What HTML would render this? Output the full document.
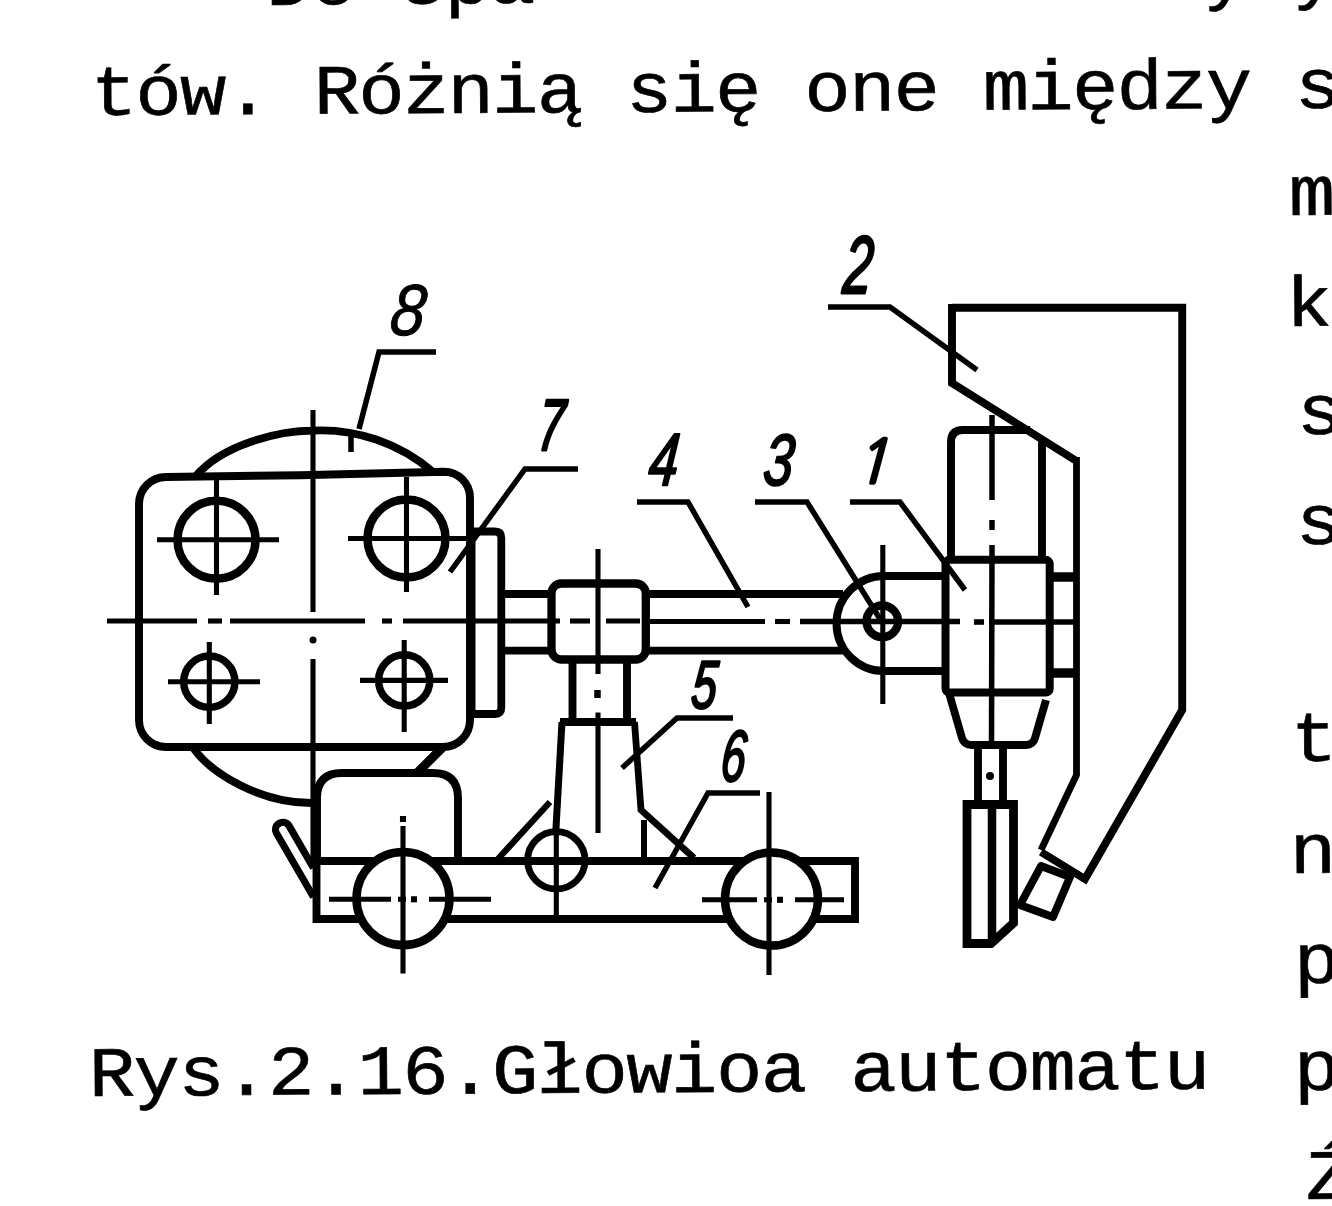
<!DOCTYPE html>
<html lang="pl"><head><meta charset="utf-8"><title>Rys.2.16.Głowioa automatu</title>
<style>
html,body{margin:0;padding:0;background:#fff;}
body{width:1332px;height:1206px;overflow:hidden;position:relative;}
#sheet{position:absolute;left:0;top:0;width:1332px;height:1206px;overflow:hidden;background:#fff;}
.t{position:absolute;white-space:pre;font-family:"Liberation Mono",monospace;font-size:77px;line-height:87.23px;color:#000;-webkit-text-stroke:0.7px #000;transform-origin:0 64.1px;}
svg{position:absolute;left:0;top:0;}
svg *{fill:none;stroke:#000;}
svg .d{fill:#000;stroke:none;}
svg .w{fill:#fff;}
svg text{fill:#000;stroke:#000;stroke-linejoin:round;font-family:"Liberation Sans",sans-serif;font-style:italic;}
svg text.n1{font-family:"NanumGothic","Liberation Sans",sans-serif;font-style:normal;stroke-width:3.2px;}
</style></head>
<body><div id="sheet">
<div class="t" style="left:266px;top:-59.5px;letter-spacing:-1.57px;transform:rotate(-0.5deg) scaleY(0.92);">Do spa               y y</div>
<div class="t" style="left:90.5px;top:50.9px;letter-spacing:-1.61px;transform:rotate(-0.33deg) scaleY(0.92);">tów. Różnią się one między s</div>
<div class="t" style="left:89px;top:1031.9px;letter-spacing:-1.41px;transform:rotate(-0.38deg) scaleY(0.92);">Rys.2.16.Głowioa automatu</div>
<div class="t" style="left:1288.5px;top:151.4px;letter-spacing:-1.41px;transform:rotate(-0.35deg) scaleY(0.92);">m</div>
<div class="t" style="left:1286px;top:261.9px;letter-spacing:-1.41px;transform:rotate(-0.35deg) scaleY(0.92);">k</div>
<div class="t" style="left:1297px;top:369.9px;letter-spacing:-1.41px;transform:rotate(-0.35deg) scaleY(0.92);">s</div>
<div class="t" style="left:1296px;top:480.4px;letter-spacing:-1.41px;transform:rotate(-0.35deg) scaleY(0.92);">s</div>
<div class="t" style="left:1291px;top:697.4px;letter-spacing:-1.41px;transform:rotate(-0.35deg) scaleY(0.92);">t</div>
<div class="t" style="left:1290px;top:808.9px;letter-spacing:-1.41px;transform:rotate(-0.35deg) scaleY(0.92);">n</div>
<div class="t" style="left:1294px;top:918.9px;letter-spacing:-1.41px;transform:rotate(-0.35deg) scaleY(0.92);">p</div>
<div class="t" style="left:1294px;top:1026.4px;letter-spacing:-1.41px;transform:rotate(-0.35deg) scaleY(0.92);">p</div>
<div class="t" style="left:1306px;top:1135.4px;letter-spacing:-1.41px;transform:rotate(-0.35deg) scaleY(0.92);">Ź</div>
<svg width="1332" height="1206" viewBox="0 0 1332 1206">
<path d="M139 720 L139 504 A27 27 0 0 1 166 477 L300 475.2 L444 471.7 A26 26 0 0 1 470 497.7 L470 720 A27 27 0 0 1 443 747 L166 747 A27 27 0 0 1 139 720 Z" stroke-width="7.9" stroke-linejoin="round" stroke-linecap="butt"/>
<path d="M195 477 C222 444 280 430.6 313 430.6 A172 172 0 0 1 433 472" stroke-width="7.9" stroke-linejoin="round" stroke-linecap="butt"/>
<path d="M194 749 C213 775 262 803 311 803 L316 803" stroke-width="7.9" stroke-linejoin="round" stroke-linecap="butt"/>
<line x1="313" y1="410" x2="313" y2="612" stroke-width="5.1" stroke-linecap="butt"/>
<circle class="d" cx="313" cy="640" r="3.5"/>
<line x1="313" y1="659" x2="313" y2="860" stroke-width="5.1" stroke-linecap="butt"/>
<line x1="107" y1="621" x2="197" y2="621" stroke-width="5.1" stroke-linecap="butt"/>
<line x1="208" y1="621" x2="222" y2="621" stroke-width="5.1" stroke-linecap="butt"/>
<line x1="230" y1="621" x2="365" y2="621" stroke-width="5.1" stroke-linecap="butt"/>
<line x1="382" y1="621" x2="392" y2="621" stroke-width="5.1" stroke-linecap="butt"/>
<line x1="403" y1="621" x2="560" y2="621" stroke-width="5.1" stroke-linecap="butt"/>
<circle cx="216.5" cy="539.7" r="39" stroke-width="8.5"/>
<line x1="157" y1="539.7" x2="279" y2="539.7" stroke-width="5.1" stroke-linecap="butt"/>
<line x1="216.5" y1="477" x2="216.5" y2="595" stroke-width="5.1" stroke-linecap="butt"/>
<circle cx="406.5" cy="538.5" r="39" stroke-width="8.5"/>
<line x1="348" y1="538.5" x2="473" y2="538.5" stroke-width="5.1" stroke-linecap="butt"/>
<line x1="406.5" y1="477" x2="406.5" y2="592" stroke-width="5.1" stroke-linecap="butt"/>
<circle cx="209.3" cy="681.7" r="25.6" stroke-width="7.5"/>
<line x1="168" y1="681.7" x2="260" y2="681.7" stroke-width="5.1" stroke-linecap="butt"/>
<line x1="209.3" y1="642" x2="209.3" y2="724" stroke-width="5.1" stroke-linecap="butt"/>
<circle cx="404.2" cy="680.4" r="25.6" stroke-width="7.5"/>
<line x1="360" y1="680.4" x2="448" y2="680.4" stroke-width="5.1" stroke-linecap="butt"/>
<line x1="404.2" y1="640" x2="404.2" y2="732" stroke-width="5.1" stroke-linecap="butt"/>
<path d="M470 531.5 L495 531.5 Q501.3 531.5 501.3 538 L501.3 707.5 Q501.3 714 495 714 L470 714" stroke-width="7.8" stroke-linejoin="round" stroke-linecap="butt"/>
<line x1="472.5" y1="528" x2="472.5" y2="718" stroke-width="6" stroke-linecap="butt"/>
<line x1="502" y1="594" x2="553" y2="594" stroke-width="7.9" stroke-linecap="butt"/>
<line x1="502" y1="650.6" x2="553" y2="650.6" stroke-width="7.9" stroke-linecap="butt"/>
<rect x="551.5" y="583.5" width="94.29999999999995" height="76.0" rx="10" ry="10" stroke-width="8.3"/>
<line x1="598" y1="549" x2="598" y2="674" stroke-width="5.1" stroke-linecap="butt"/>
<line x1="598" y1="712.5" x2="598" y2="833" stroke-width="5.1" stroke-linecap="butt"/>
<line x1="646" y1="594" x2="843" y2="594" stroke-width="7.9" stroke-linecap="butt"/>
<line x1="646" y1="650.6" x2="843" y2="650.6" stroke-width="7.9" stroke-linecap="butt"/>
<line x1="570" y1="621" x2="590" y2="621" stroke-width="5.1" stroke-linecap="butt"/>
<line x1="606" y1="621" x2="640" y2="621" stroke-width="5.1" stroke-linecap="butt"/>
<line x1="650" y1="621.5" x2="765" y2="621.5" stroke-width="5.1" stroke-linecap="butt"/>
<line x1="775" y1="621.5" x2="790" y2="621.5" stroke-width="5.1" stroke-linecap="butt"/>
<line x1="800" y1="621.5" x2="960" y2="621.5" stroke-width="5.6" stroke-linecap="butt"/>
<line x1="974" y1="622" x2="984" y2="622" stroke-width="5.6" stroke-linecap="butt"/>
<line x1="989" y1="622" x2="1074" y2="622" stroke-width="5.6" stroke-linecap="butt"/>
<path d="M947 576 L884 576 A47.5 47.5 0 0 0 884 671 L947 671" stroke-width="7.9" stroke-linejoin="round" stroke-linecap="butt"/>
<circle cx="882.3" cy="621.3" r="15.8" stroke-width="8.3"/>
<line x1="882.8" y1="545" x2="882.8" y2="704" stroke-width="5.1" stroke-linecap="butt"/>
<path d="M951 558 L951 442 Q951 430 963 430 L1030 430" stroke-width="7.9" stroke-linejoin="round" stroke-linecap="butt"/>
<line x1="1042" y1="440" x2="1042" y2="558" stroke-width="7.9" stroke-linecap="butt"/>
<rect x="945.5" y="559.8" width="104.20000000000005" height="132.70000000000005" rx="4" ry="4" stroke-width="8"/>
<line x1="992" y1="415" x2="992" y2="500" stroke-width="5.5" stroke-linecap="butt"/>
<line x1="992" y1="520" x2="992" y2="530" stroke-width="5.5" stroke-linecap="butt"/>
<line x1="992" y1="545" x2="991.5" y2="745" stroke-width="5.5" stroke-linecap="butt"/>
<line x1="1050" y1="577" x2="1077" y2="577" stroke-width="9.5" stroke-linecap="butt"/>
<line x1="1050" y1="673" x2="1077" y2="673" stroke-width="9.5" stroke-linecap="butt"/>
<path d="M949 693 L962 738 Q964 745 972 745 L1026 745 Q1033 745 1035 738 L1046 700" stroke-width="7.9" stroke-linejoin="round" stroke-linecap="butt"/>
<line x1="978" y1="745" x2="978" y2="804" stroke-width="7.9" stroke-linecap="butt"/>
<line x1="1003" y1="745" x2="1003" y2="804" stroke-width="7.9" stroke-linecap="butt"/>
<circle class="d" cx="990" cy="776" r="4"/>
<path d="M967 804.5 L967 943.5 L991 943.5 L1013.5 923 L1013.5 804.5 Z" stroke-width="8.8" stroke-linejoin="miter" stroke-linecap="butt"/>
<line x1="992" y1="804" x2="992" y2="942" stroke-width="8.5" stroke-linecap="butt"/>
<path d="M952 307.8 L1182.2 307.8 L1182.2 710 L1085 879 L1041 852" stroke-width="7.9" stroke-linejoin="miter" stroke-linecap="butt"/>
<path d="M952 304 L952 383 L1076.5 461" stroke-width="7.9" stroke-linejoin="miter" stroke-linecap="butt"/>
<path d="M1076.5 457 L1076.5 775 L1041 850" stroke-width="6.8" stroke-linejoin="miter" stroke-linecap="butt"/>
<path d="M1041 866 L1070 877 L1053 917 L1020 905 Z" stroke-width="7.9" stroke-linejoin="round" stroke-linecap="butt"/>
<line x1="572.5" y1="659" x2="572.5" y2="722" stroke-width="7.9" stroke-linecap="butt"/>
<line x1="627" y1="659" x2="627" y2="722" stroke-width="7.9" stroke-linecap="butt"/>
<line x1="597.5" y1="690" x2="597.5" y2="698" stroke-width="6.5" stroke-linecap="butt"/>
<path d="M560 722 L636 722" stroke-width="7.9" stroke-linejoin="round" stroke-linecap="butt"/>
<path d="M562 722 L555.6 835" stroke-width="7" stroke-linejoin="round" stroke-linecap="butt"/>
<path d="M634.5 722 L641 810 L694 858" stroke-width="6.8" stroke-linejoin="miter" stroke-linecap="butt"/>
<line x1="644" y1="820" x2="644" y2="860" stroke-width="6" stroke-linecap="butt"/>
<path d="M497 860 L550 802" stroke-width="6.3" stroke-linejoin="round" stroke-linecap="butt"/>
<circle cx="556.3" cy="860.3" r="28.7" stroke-width="6.8"/>
<line x1="556.3" y1="827" x2="556.3" y2="919" stroke-width="5.1" stroke-linecap="butt"/>
<path d="M316.5 861 L855 861 L855 919 L316.5 919 Z" stroke-width="7.9" stroke-linejoin="miter" stroke-linecap="butt"/>
<path d="M317 860 L317 798 Q317 773 342 773 L433 773 Q458 773 458 798 L458 860" stroke-width="7.9" stroke-linejoin="round" stroke-linecap="butt"/>
<path d="M443 747 L417 773" stroke-width="9" stroke-linejoin="round" stroke-linecap="butt"/>
<path d="M313.5 897 L276.5 833.3 A7.25 7.25 0 0 1 289.1 825.9 L313.5 868" stroke-width="7.2" stroke-linejoin="round" stroke-linecap="butt"/>
<circle class="w" cx="403" cy="898.5" r="46.5" stroke-width="8.5"/>
<line x1="329" y1="899.3" x2="391" y2="899.3" stroke-width="5.1" stroke-linecap="butt"/>
<line x1="398" y1="899.3" x2="406" y2="899.3" stroke-width="5.1" stroke-linecap="butt"/>
<line x1="411" y1="899.3" x2="417" y2="899.3" stroke-width="6.1" stroke-linecap="butt"/>
<line x1="429" y1="899.3" x2="491" y2="899.3" stroke-width="5.1" stroke-linecap="butt"/>
<line x1="403" y1="816" x2="403" y2="822" stroke-width="6.1" stroke-linecap="butt"/>
<line x1="403" y1="826" x2="403" y2="973.5" stroke-width="5.1" stroke-linecap="butt"/>
<circle class="w" cx="771.5" cy="899" r="46.5" stroke-width="8.5"/>
<line x1="702" y1="899.8" x2="757" y2="899.8" stroke-width="5.1" stroke-linecap="butt"/>
<line x1="764" y1="899.8" x2="772" y2="899.8" stroke-width="5.1" stroke-linecap="butt"/>
<line x1="777" y1="899.8" x2="783" y2="899.8" stroke-width="6.1" stroke-linecap="butt"/>
<line x1="795" y1="899.8" x2="844" y2="899.8" stroke-width="5.1" stroke-linecap="butt"/>
<line x1="769" y1="792" x2="769" y2="975" stroke-width="5.1" stroke-linecap="butt"/>
<path d="M436 352 L379 352 L359 429" stroke-width="5.5" stroke-linejoin="miter" stroke-linecap="butt"/>
<line x1="351" y1="433" x2="351" y2="452" stroke-width="5.5" stroke-linecap="butt"/>
<path d="M578 469 L525 469 L450 572" stroke-width="5.5" stroke-linejoin="miter" stroke-linecap="butt"/>
<path d="M637 502 L688 502 L748 607" stroke-width="5.5" stroke-linejoin="miter" stroke-linecap="butt"/>
<path d="M755 502 L807 502 L880 619" stroke-width="5.5" stroke-linejoin="miter" stroke-linecap="butt"/>
<path d="M850 502 L900 502 L965 590" stroke-width="5.5" stroke-linejoin="miter" stroke-linecap="butt"/>
<path d="M828 307 L890 307 L977 370" stroke-width="5.5" stroke-linejoin="miter" stroke-linecap="butt"/>
<path d="M733 718 L677 718 L622 768" stroke-width="5.5" stroke-linejoin="miter" stroke-linecap="butt"/>
<path d="M760 793 L708 793 L655 888" stroke-width="5.5" stroke-linejoin="miter" stroke-linecap="butt"/>
<text class="n" x="0" y="0" transform="translate(388.2 334.5) scale(0.843 0.979) skewX(-8)" font-size="74" stroke-width="1.0">8</text>
<text class="n" x="0" y="0" transform="translate(536.6 450.4) scale(0.628 0.977) skewX(-8)" font-size="74" stroke-width="3.0">7</text>
<text class="n" x="0" y="0" transform="translate(647.3 484.5) scale(0.711 1.0) skewX(-8)" font-size="74" stroke-width="2.4">4</text>
<text class="n" x="0" y="0" transform="translate(761.8 484.5) scale(0.727 0.979) skewX(-8)" font-size="74" stroke-width="2.2">3</text>
<text class="n" x="0" y="0" transform="translate(841.7 292.9) scale(0.702 1.098) skewX(-8)" font-size="74" stroke-width="2.6">2</text>
<text class="n" x="0" y="0" transform="translate(689.9 707.6) scale(0.615 0.915) skewX(-8)" font-size="74" stroke-width="2.8">5</text>
<text class="n" x="0" y="0" transform="translate(719.6 780.7) scale(0.6 0.975) skewX(-8)" font-size="74" stroke-width="2.6">6</text>
<text class="n1" x="0" y="0" transform="translate(853.5 483.2) skewX(-15) scale(0.95 1)" font-size="60">1</text>
</svg>
</div></body></html>
